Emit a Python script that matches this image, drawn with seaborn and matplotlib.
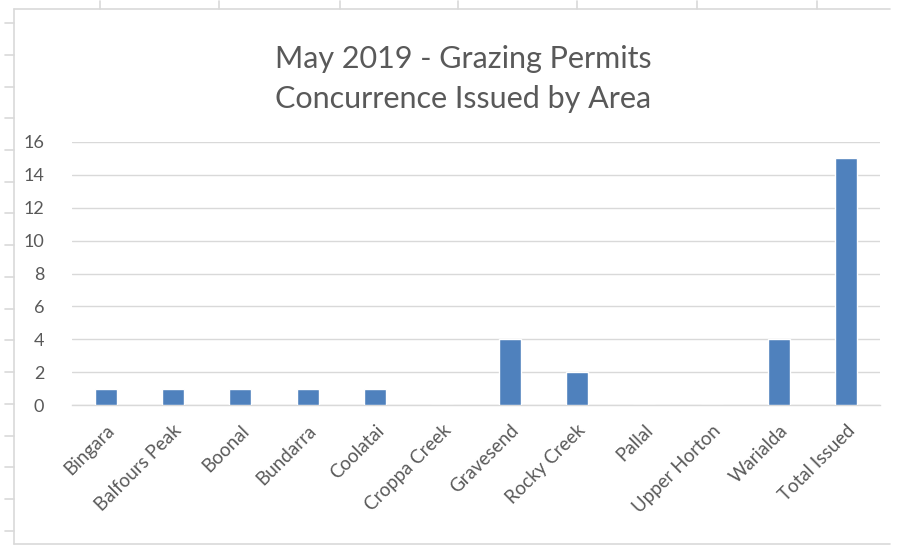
import matplotlib
matplotlib.use("Agg")
import matplotlib.pyplot as plt
import seaborn as sns
import pandas as pd
from matplotlib.lines import Line2D

categories = ["Bingara", "Balfours Peak", "Boonal", "Bundarra", "Coolatai", "Croppa Creek",
              "Gravesend", "Rocky Creek", "Pallal", "Upper Horton", "Warialda", "Total Issued"]
permits = [1, 1, 1, 1, 1, 0, 4, 2, 0, 0, 4, 15]
yticks = [0, 2, 4, 6, 8, 10, 12, 14, 16]
title = "May 2019 - Grazing Permits\nConcurrence Issued by Area"

df = pd.DataFrame({"Area": categories, "Permits": permits})

sns.set_theme(style="white")
plt.rcParams["font.family"] = ["Lato", "DejaVu Sans"]

W, H = 899, 546
fig = plt.figure(figsize=(W / 100, H / 100), dpi=100)
ax = fig.add_axes([72 / W, 1 - 405 / H, (880 - 72) / W, (405 - 142) / H])

sns.barplot(data=df, x="Area", y="Permits", color="#4F81BD", width=0.33,
            saturation=1, ax=ax, zorder=3)

ax.set_ylim(0, 16)
ax.set_yticks(yticks)
ax.set_xlim(-0.5, len(categories) - 0.5)
ax.yaxis.grid(True, color="#d9d9d9", linewidth=1, zorder=0)
for s in ["top", "right", "left"]:
    ax.spines[s].set_visible(False)
ax.spines["bottom"].set_color("#d9d9d9")
ax.spines["bottom"].set_linewidth(1)
ax.set_xlabel("")
ax.set_ylabel("")
ax.tick_params(axis="both", length=0, colors="#595959", labelsize=13)
ax.tick_params(axis="x", labelsize=13.5)
ax.tick_params(axis="y", pad=20)
ax.set_xticks(range(len(categories)))
ax.set_xticklabels(categories, rotation=45, ha="right", rotation_mode="anchor")
ax.tick_params(axis="x", pad=12)

fig.text(463 / W, 1 - 79 / H, title, ha="center", va="center", fontsize=22,
         color="#595959", linespacing=1.55)

# spreadsheet frame and cell ticks
gc = "#d9d9d9"
def fl(x0, y0, x1, y1):
    fig.add_artist(Line2D([x0 / W, x1 / W], [1 - y0 / H, 1 - y1 / H], color=gc, lw=1.2))
fl(14, 9, 890, 9)
fl(14, 9, 14, 544)
fl(14, 544, 890, 544)
for yy in [23, 55, 87, 118, 150, 182, 213, 245, 277, 309, 340, 372, 404, 436, 467, 499, 531]:
    fl(5, yy, 14, yy)
for xx in [100, 219, 340, 458, 577, 697, 817]:
    fl(xx, 1, xx, 9)

fig.savefig("out.png", dpi=100, facecolor="white")
